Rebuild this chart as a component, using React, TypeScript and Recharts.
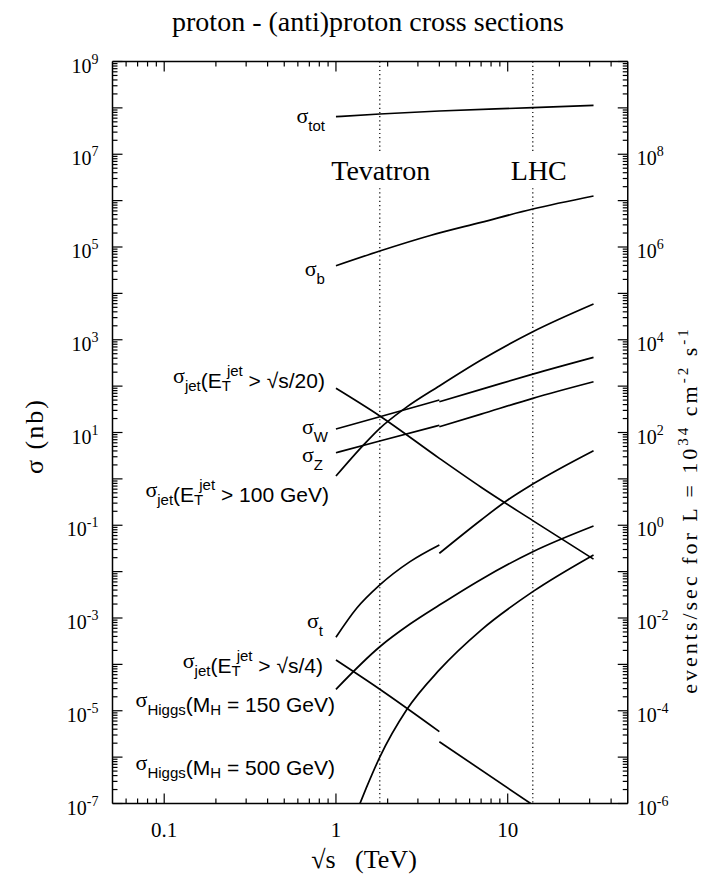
import React from "react";
import { LineChart, Line, XAxis, YAxis, ReferenceLine, ReferenceDot } from "recharts";

const W = 707;
const H = 884;
const SERIF = '"Liberation Serif", "Times New Roman", Times, serif';
const SANS = '"Liberation Sans", Arial, Helvetica, sans-serif';

type Pt = [number, number];

// sqrt(s) in TeV against cross section in nb
const sigmaTot: Pt[] = [[1, 6.46e7], [1.8, 7.38e7], [4, 8.57e7], [14, 1.01e8], [31.6, 1.135e8]];
const sigmaB: Pt[] = [[1, 3.95e4], [1.8, 8.2e4], [3.5, 1.75e5], [7, 3.4e5], [14, 6.6e5], [31.6, 1.26e6]];
const sigmaJetS20: Pt[] = [[1, 89.7], [1.8, 22.7], [4, 2.77], [7, 0.66], [14, 0.126], [31.6, 0.0186]];
const sigmaWppbar: Pt[] = [[1, 11.9], [1.8, 21.9], [4, 50.1]];
const sigmaWpp: Pt[] = [[4, 46.1], [7, 84.9], [14, 182], [31.6, 418]];
const sigmaZppbar: Pt[] = [[1, 3.66], [1.8, 6.56], [4, 14.3]];
const sigmaZpp: Pt[] = [[4, 13.3], [7, 24.9], [14, 54.6], [31.6, 124]];
const sigmaJet100: Pt[] = [[1, 1.15], [1.44, 5.28], [1.8, 12.3], [2.52, 33.2], [4, 101], [7, 366], [14, 1490], [31.6, 5900]];
const sigmaTopPpbar: Pt[] = [[1, 3.84e-4], [1.32, 1.62e-3], [1.8, 5.15e-3], [2.7, 0.0164], [4, 0.0375]];
const sigmaTopPp: Pt[] = [[4, 0.0248], [7, 0.13], [10, 0.351], [14, 0.774], [31.6, 4.06]];
const sigmaHiggs150: Pt[] = [[1, 2.9e-5], [1.8, 2.4e-4], [2.7, 7.4e-4], [4, 1.9e-3], [7, 6.8e-3], [14, 0.0269], [31.6, 0.0964]];
const sigmaJetS4Ppbar: Pt[] = [[1, 1.24e-4], [1.8, 2.9e-5], [4, 3.54e-6]];
const sigmaJetS4Pp: Pt[] = [[4, 2.15e-6], [13.6, 1e-7]];
const sigmaHiggs500: Pt[] = [[1.38, 1e-7], [1.5, 2.14e-7], [1.8, 1e-6], [2.58, 1.05e-5], [4, 7.6e-5], [7, 5.5e-4], [14, 3.7e-3], [31.6, 0.0229]];

const allSeries = [
  sigmaTot, sigmaB, sigmaJetS20, sigmaWppbar, sigmaWpp, sigmaZppbar, sigmaZpp, sigmaJet100,
  sigmaTopPpbar, sigmaTopPp, sigmaHiggs150, sigmaJetS4Ppbar, sigmaJetS4Pp, sigmaHiggs500,
];

const tevatron = 1.8;
const lhc = 14;
const nameGap: Pt = [1.86e6, 1.07e7]; // dotted lines stop around the machine names

const xMajor = [0.1, 1, 10];
const xMajorLabels = ["0.1", "1", "10"];

function decadeTicks(lo: number, hi: number) {
  const out: number[] = [];
  for (let e = lo; e < hi; e++) for (let m = 1; m <= 9; m++) out.push(m * Math.pow(10, e));
  out.push(Math.pow(10, hi));
  return out;
}
const xTicks = decadeTicks(-2, 2).filter((v) => v > 0.051 && v < 49);
const leftTicks = decadeTicks(-7, 9);
const rightTicks = decadeTicks(-6, 10);

const toPts = (s: Pt[]) => s.map(([x, y]) => ({ x, y }));

function expOf(v: number) {
  const lg = Math.log10(v);
  const e = Math.round(lg);
  return { e, major: Math.abs(lg - e) < 1e-6 };
}

const tickStyle = { stroke: "#000", strokeWidth: 1.2 };
const axisStyle = { stroke: "#000", strokeWidth: 1.5 };

function BottomTick(props: any) {
  const { x, y, payload } = props;
  const i = xMajor.findIndex((m) => Math.abs(m - payload.value) < 1e-9);
  return (
    <g>
      <line x1={x} x2={x} y1={y} y2={y - (i >= 0 ? 10 : 5)} {...tickStyle} />
      {i >= 0 && (
        <text x={x} y={y + 33} textAnchor="middle" fontFamily={SERIF} fontSize={21} fill="#000">
          {xMajorLabels[i]}
        </text>
      )}
    </g>
  );
}

function TopTick(props: any) {
  const { x, y, payload } = props;
  const major = xMajor.some((m) => Math.abs(m - payload.value) < 1e-9);
  return <line x1={x} x2={x} y1={y} y2={y + (major ? 10 : 5)} {...tickStyle} />;
}

function LeftTick(props: any) {
  const { x, y, payload } = props;
  const { e, major } = expOf(payload.value);
  return (
    <g>
      <line x1={x} x2={x + (major ? 10 : 5)} y1={y} y2={y} {...tickStyle} />
      {major && e % 2 !== 0 && (
        <text x={x - 14} y={y + 11} textAnchor="end" fontFamily={SERIF} fontSize={20} fill="#000">
          10<tspan dy={-9} fontSize={14}>{`${e}`}</tspan>
        </text>
      )}
    </g>
  );
}

function RightTick(props: any) {
  const { x, y, payload } = props;
  const { e, major } = expOf(payload.value);
  return (
    <g>
      <line x1={x} x2={x - (major ? 10 : 5)} y1={y} y2={y} {...tickStyle} />
      {major && e % 2 === 0 && e <= 8 && (
        <text x={x + 9} y={y + 11} textAnchor="start" fontFamily={SERIF} fontSize={20} fill="#000">
          10<tspan dy={-9} fontSize={14}>{`${e}`}</tspan>
        </text>
      )}
    </g>
  );
}

type Part = { t: string; k?: "sigma" | "sub" | "sup"; dx?: number };

function RichText({ x, y, parts }: { x: number; y: number; parts: Part[] }) {
  let cur = 0;
  return (
    <text x={x} y={y} textAnchor="end" fontFamily={SANS} fontSize={21} fill="#000" style={{ whiteSpace: "pre" }}>
      {parts.map((p, i) => {
        const target = p.k === "sub" ? 3 : p.k === "sup" ? -12 : p.k === "sigma" ? -5 : 0;
        const dy = target - cur;
        cur = target;
        const size = p.k === "sub" || p.k === "sup" ? 15 : p.k === "sigma" ? 22 : 21;
        return (
          <tspan key={i} dy={dy} dx={p.dx} fontSize={size} fontFamily={p.k === "sigma" ? SERIF : undefined}>
            {p.t}
          </tspan>
        );
      })}
    </text>
  );
}

const sig: Part = { t: "σ", k: "sigma" };
const jetET: Part[] = [{ t: "jet", k: "sub" }, { t: "(E" }, { t: "T", k: "sub" }, { t: "jet", k: "sup", dx: -4 }];

const curveLabels: { at: Pt; dx: number; dy: number; parts: Part[] }[] = [
  { at: sigmaTot[0], dx: -11, dy: 11.6, parts: [sig, { t: "tot", k: "sub" }] },
  { at: sigmaB[0], dx: -11, dy: 14.8, parts: [sig, { t: "b", k: "sub" }] },
  { at: sigmaJetS20[0], dx: -11, dy: 0, parts: [sig, ...jetET, { t: " > √s/20)" }] },
  { at: sigmaWppbar[0], dx: -8, dy: 10, parts: [sig, { t: "W", k: "sub" }] },
  { at: sigmaZppbar[0], dx: -13, dy: 14, parts: [sig, { t: "Z", k: "sub" }] },
  { at: sigmaJet100[0], dx: -7, dy: 25.7, parts: [sig, ...jetET, { t: " > 100 GeV)" }] },
  { at: sigmaTopPpbar[0], dx: -13, dy: -3.8, parts: [sig, { t: "t", k: "sub" }] },
  { at: sigmaJetS4Ppbar[0], dx: -13, dy: 12.7, parts: [sig, ...jetET, { t: " > √s/4)" }] },
  { at: sigmaHiggs150[0], dx: -1, dy: 22.4, parts: [sig, { t: "Higgs", k: "sub" }, { t: "(M" }, { t: "H", k: "sub" }, { t: " = 150 GeV)" }] },
  { at: [1, 1e-6], dx: -1, dy: 17.7, parts: [sig, { t: "Higgs", k: "sub" }, { t: "(M" }, { t: "H", k: "sub" }, { t: " = 500 GeV)" }] },
];

const machines = [
  { x: tevatron, name: "Tevatron", dx: 1 },
  { x: lhc, name: "LHC", dx: 6 },
];

export default function App() {
  return (
    <div style={{ position: "absolute", left: 0, top: 0, width: W, height: H, background: "#fff" }}>
      <LineChart width={W} height={H} margin={{ top: 0, right: 0, bottom: 0, left: 0 }}>
        <XAxis
          type="number"
          dataKey="x"
          scale="log"
          domain={[0.05, 50]}
          allowDataOverflow
          ticks={xTicks}
          interval={0}
          height={80.5}
          tickSize={0}
          tickMargin={0}
          tickLine={false}
          axisLine={axisStyle}
          tick={BottomTick}
        />
        <XAxis
          xAxisId="top"
          orientation="top"
          type="number"
          dataKey="x"
          scale="log"
          domain={[0.05, 50]}
          allowDataOverflow
          ticks={xTicks}
          interval={0}
          height={61.5}
          tickSize={0}
          tickMargin={0}
          tickLine={false}
          axisLine={axisStyle}
          tick={TopTick}
        />
        <YAxis
          type="number"
          scale="log"
          domain={[1e-7, 1e9]}
          allowDataOverflow
          ticks={leftTicks}
          interval={0}
          width={112.5}
          tickSize={0}
          tickMargin={0}
          tickLine={false}
          axisLine={axisStyle}
          tick={LeftTick}
        />
        <YAxis
          yAxisId="right"
          orientation="right"
          type="number"
          scale="log"
          domain={[1e-6, 1e10]}
          allowDataOverflow
          ticks={rightTicks}
          interval={0}
          width={79.25}
          tickSize={0}
          tickMargin={0}
          tickLine={false}
          axisLine={axisStyle}
          tick={RightTick}
        />
        {machines.map((m) => (
          <ReferenceLine
            key={m.name + "a"}
            segment={[{ x: m.x, y: 1e9 }, { x: m.x, y: nameGap[1] }]}
            stroke="#000"
            strokeWidth={1.2}
            strokeDasharray="1.2 3"
            ifOverflow="visible"
          />
        ))}
        {machines.map((m) => (
          <ReferenceLine
            key={m.name + "b"}
            segment={[{ x: m.x, y: nameGap[0] }, { x: m.x, y: 1e-7 }]}
            stroke="#000"
            strokeWidth={1.2}
            strokeDasharray="1.2 3"
            ifOverflow="visible"
          />
        ))}
        {allSeries.map((s, i) => (
          <Line
            key={i}
            data={toPts(s)}
            dataKey="y"
            type="monotone"
            stroke="#000"
            strokeWidth={1.7}
            dot={false}
            activeDot={false}
            isAnimationActive={false}
          />
        ))}
        {machines.map((m) => (
          <ReferenceDot
            key={m.name}
            x={m.x}
            y={nameGap[0]}
            r={0}
            ifOverflow="visible"
            shape={(p: any) => (
              <text x={p.cx + m.dx} y={p.cy - 8} textAnchor="middle" fontFamily={SERIF} fontSize={28} fill="#000">
                {m.name}
              </text>
            )}
          />
        ))}
        {curveLabels.map((l, i) => (
          <ReferenceDot
            key={"l" + i}
            x={l.at[0]}
            y={l.at[1]}
            r={0}
            ifOverflow="visible"
            shape={(p: any) => <RichText x={p.cx + l.dx} y={p.cy + l.dy} parts={l.parts} />}
          />
        ))}
      </LineChart>
      <svg width={W} height={H} style={{ position: "absolute", left: 0, top: 0, pointerEvents: "none" }}>
        <text x={368} y={31} textAnchor="middle" fontFamily={SERIF} fontSize={28} fill="#000">
          proton - (anti)proton cross sections
        </text>
        <text x={364} y={868} textAnchor="middle" fontFamily={SERIF} fontSize={26} fill="#000" style={{ whiteSpace: "pre" }}>
          √s   (TeV)
        </text>
        <text transform="translate(43,436) rotate(-90)" textAnchor="middle" fontFamily={SERIF} fontSize={26} letterSpacing={2} fill="#000">
          σ (nb)
        </text>
        <text transform="translate(697,510) rotate(-90)" textAnchor="middle" fontFamily={SERIF} fontSize={22} letterSpacing={3} fill="#000">
          events/sec for L = 10<tspan dy={-9} fontSize={15}>34</tspan>
          <tspan dy={9}> cm</tspan>
          <tspan dy={-9} fontSize={15}>-2</tspan>
          <tspan dy={9}> s</tspan>
          <tspan dy={-9} fontSize={15}>-1</tspan>
        </text>
      </svg>
    </div>
  );
}
